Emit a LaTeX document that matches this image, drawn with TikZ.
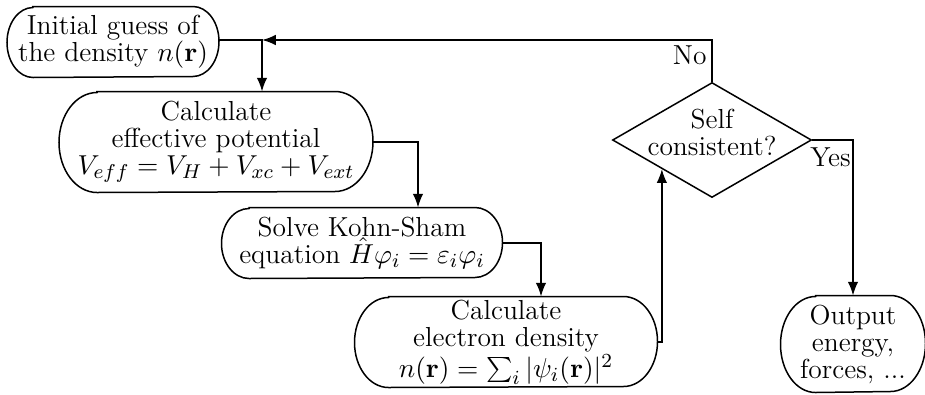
\documentclass[tikz,border=0pt]{standalone}
\usetikzlibrary{shapes.geometric,arrows.meta}
\newcommand\stadium[3]{%
  \draw[semithick] ([xshift=#2]#1.north west) -- ([xshift=-#2]#1.north east)
    arc[start angle=90,end angle=-90,x radius=#2,y radius=#3]
    -- ([xshift=#2]#1.south west)
    arc[start angle=-90,end angle=-270,x radius=#2,y radius=#3] -- cycle;}
\begin{document}
\begin{tikzpicture}[x=0.4pt,y=-0.4pt,
  every node/.style={font=\fontsize{11}{10.8}\selectfont},
  box/.style={rectangle,align=center,inner sep=0pt},
  conn/.style={semithick,-{Latex[length=5.5pt,width=4.2pt]}},
  lbl/.style={inner sep=1pt}]
\useasboundingbox (0,0) rectangle (925,394);
\node[box,minimum width=84.4pt,minimum height=28pt] (init) at (113,42) {Initial guess of\\the density $n(\mathbf{r})$};
\node[box,minimum width=125.2pt,minimum height=40pt] (calc) at (216,142) {Calculate\\effective potential\\$V_{eff}=V_H+V_{xc}+V_{ext}$};
\node[box,minimum width=112pt,minimum height=28pt] (solve) at (362,243) {Solve Kohn-Sham\\equation $\hat{H}\varphi_i=\varepsilon_i\varphi_i$};
\node[box,minimum width=120.8pt,minimum height=36pt] (dens) at (506,342) {Calculate\\electron density\\$n(\mathbf{r})=\sum_i|\psi_i(\mathbf{r})|^2$};
\node[draw,semithick,diamond,inner sep=0pt,minimum width=79.6pt,minimum height=46pt] (dia) at (712,140) {};
\node[align=center,inner sep=0pt] (diat) at ([yshift=3pt]dia.center) {Self\\consistent?};
\node[box,minimum width=57.6pt,minimum height=38.4pt] (out) at (853,344) {Output\\energy,\\forces, ...};
\stadium{init}{10.4pt}{14pt}
\stadium{calc}{15.2pt}{20pt}
\stadium{solve}{11pt}{14pt}
\stadium{dens}{13.6pt}{18pt}
\stadium{out}{14pt}{19.2pt}
\coordinate (j) at (262,40);
\draw[conn] (init.east |- j) -- (j) -- (j |- calc.north);
\draw[conn] (calc.east) -| ([xshift=22.4pt]solve.north);
\draw[conn] (solve.east) -| ([xshift=14pt]dens.north);
\draw[conn] (dens.east) -| (dia.south west);
\draw[conn] (dia.north) |- (j);
\draw[conn] (dia.east) -| (out.north);
\node[lbl,anchor=north east] (no) at ([xshift=-1pt,yshift=-1pt]dia.north |- j) {No};
\node[lbl,anchor=north west] (yes) at ([xshift=-2pt,yshift=-2pt]dia.east) {Yes};
\end{tikzpicture}
\end{document}
